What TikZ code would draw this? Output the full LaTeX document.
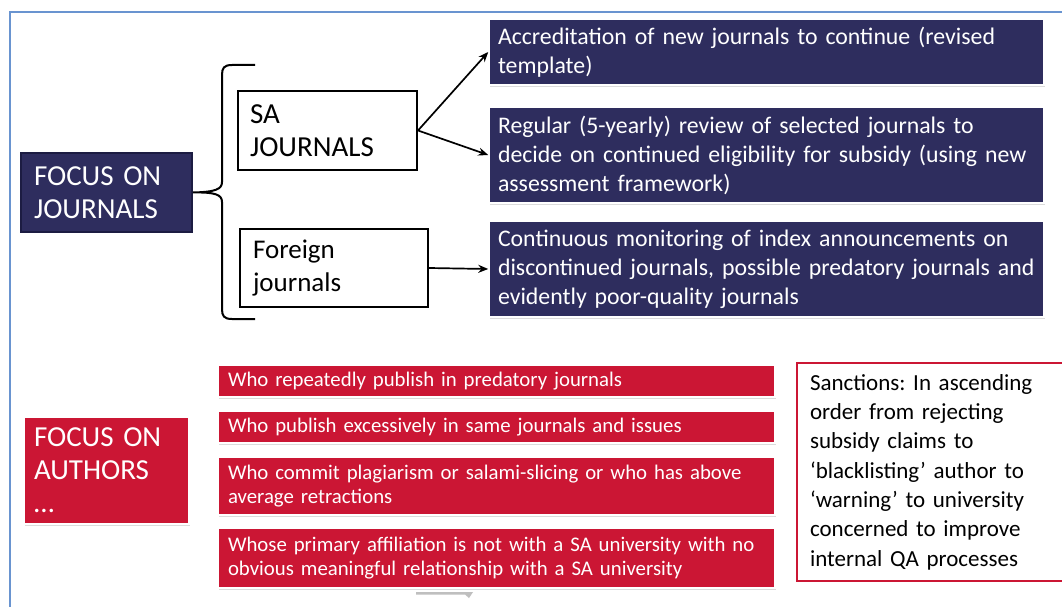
\documentclass[tikz,border=0pt]{standalone}
\usepackage{fontspec}
\setmainfont{Carlito}
\usetikzlibrary{arrows.meta,shadows}
\definecolor{navy}{RGB}{46,45,94}
\definecolor{navyedge}{RGB}{28,28,66}
\definecolor{crimson}{RGB}{203,22,52}
\definecolor{framebl}{RGB}{105,148,208}
\tikzset{
  shade box/.style={drop shadow={shadow xshift=1.2pt, shadow yshift=-2pt, opacity=0.28}},
  navybox/.style={rectangle, fill=navy, draw=white, line width=1.5pt, text=white,
    align=left, inner xsep=9pt, inner ysep=0pt, text width=537pt, minimum width=555pt,
    shade box, font=\fontsize{23.8}{29}\selectfont},
  focusbox/.style={rectangle, fill=navy, draw=navyedge, line width=1.8pt, text=white,
    align=left, inner ysep=0pt, font=\fontsize{29}{33}\selectfont},
  whitebox/.style={rectangle, fill=white, draw=black, line width=2pt, text=black,
    align=left, inner ysep=0pt, font=\fontsize{29}{33}\selectfont},
  redbar/.style={rectangle, fill=crimson, draw=white, line width=1.5pt, text=white,
    align=left, inner xsep=10pt, inner ysep=0pt, text width=537pt, minimum width=557pt,
    shade box, font=\fontsize{20.8}{24}\selectfont},
  authorbox/.style={rectangle, fill=crimson, draw=white, line width=1.5pt, text=white,
    align=left, inner xsep=10pt, inner ysep=0pt, text width=145pt, minimum width=165pt,
    shade box, font=\fontsize{29}{33}\selectfont},
  sanctbox/.style={rectangle, fill=white, draw=crimson, line width=2.2pt, text=black,
    align=left, inner xsep=13pt, inner ysep=0pt, text width=257pt, minimum width=283pt,
    font=\fontsize{23}{29.3}\selectfont},
  arr/.style={line width=1.7pt, -{Stealth[length=10pt,width=8pt]}},
  bracepath/.style={line width=2pt, black},
}
\begin{document}
\frenchspacing
\begin{tikzpicture}[x=1pt,y=-1pt]
\useasboundingbox (0,0) rectangle (1062,607);
\clip (0,0) rectangle (1062,607);
\fill[white] (0,0) rectangle (1062,607);
% frame
\draw[framebl, line width=1.5pt] (10,640) -- (10,12) -- (1100,12);

% journals part
\node[focusbox, inner xsep=13pt, text width=145pt, minimum width=171pt, minimum height=79pt] (jfocus) at (106.5,192.5) {FOCUS ON\\JOURNALS};
\node[whitebox, inner xsep=12pt, text width=155pt, minimum width=179pt, minimum height=79pt] (sa) at (327.5,130.5) {SA\\JOURNALS};
\node[whitebox, inner xsep=13pt, text width=162pt, minimum width=188pt, minimum height=78pt, font=\fontsize{27}{33}\selectfont] (fj) at (334,268) {Foreign\\journals};

\node[navybox, minimum height=66pt] (nb1) at (766.5,52) {Accreditation of new journals to continue (revised\\template)};
\node[navybox, minimum height=96pt] (nb2) at (766.5,155) {Regular (5-yearly) review of selected journals to\\decide on continued eligibility for subsidy (using new\\assessment framework)};
\node[navybox, minimum height=96pt] (nb3) at (766.5,269) {Continuous monitoring of index announcements on\\discontinued journals, possible predatory journals and\\evidently poor-quality journals};

% brace
\coordinate (btop) at (255,65);
\coordinate (bbot) at (255,319);
\draw[bracepath] (btop) -- (232,65) .. controls (224,65) and (222,68) .. (222,75) -- (222,182)
  .. controls (222,189) and (216,192) .. (jfocus.east)
  .. controls (216,192) and (222,195) .. (222,202) -- (222,309)
  .. controls (222,316) and (224,319) .. (232,319) -- (bbot);

% arrows
\draw[arr] (sa.east) -- (nb1.west);
\draw[arr] (sa.east) -- (nb2.west);
\draw[arr] (fj.east) -- (nb3.west);

% authors part
\node[authorbox, minimum height=107pt] (afocus) at (106.5,470.5) {FOCUS ON\\AUTHORS\\\ldots};
\node[redbar, minimum height=32pt] (r1) at (496.5,381) {Who repeatedly publish in predatory journals};
\node[redbar, minimum height=32pt] (r2) at (496.5,427) {Who publish excessively in same journals and issues};
\node[redbar, minimum height=58pt] (r3) at (496.5,486) {Who commit plagiarism or salami-slicing or who has above\\average retractions};
\node[redbar, minimum height=60pt] (r4) at (496.5,558) {Whose primary affiliation is not with a SA university with no\\obvious meaningful relationship with a SA university};
\fill[black!25] (416,592) -- (473,592) -- (469,598) -- (465,594.5) -- (416,594.5) -- cycle;

\node[sanctbox, minimum height=218pt] (sanct) at (938.5,472) {Sanctions: In ascending\\order from rejecting\\subsidy claims to\\‘blacklisting’ author to\\‘warning’ to university\\concerned to improve\\internal QA processes};
\end{tikzpicture}
\end{document}
